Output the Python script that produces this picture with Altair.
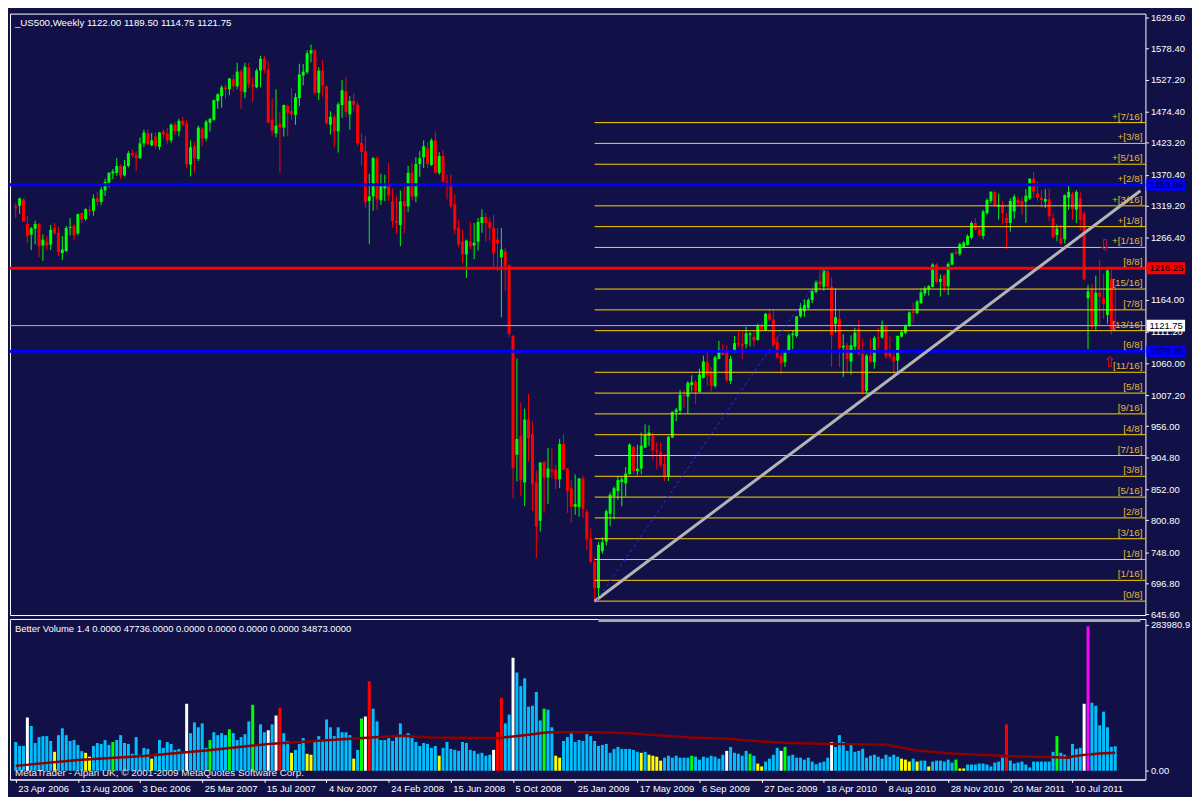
import altair as alt
import pandas as pd

BG = "#111147"
FONT = "Liberation Sans"
W, H1, H2 = 1146, 607, 162
XDOM = [-0.2, 289.5]
PDOM = [644.6, 1636.1]
VDOM = [-17000, 295000]

TITLE = "_US500,Weekly  1122.00 1189.50 1114.75 1121.75"
VOL_TITLE = "Better Volume 1.4 0.0000 47736.0000 0.0000 0.0000 0.0000 0.0000 34873.0000"
FOOTER = "MetaTrader - Alpari UK, \u00a9 2001-2009 MetaQuotes Software Corp."

# weekly bars, week 0 = 23 Apr 2006
opens = [
    1318.0, 1319.1, 1329.9, 1289.4, 1271.6, 1281.3, 1289.4, 1253.7, 1260.2, 1255.4,
    1282.9, 1274.8, 1241.3, 1244.6, 1283.5, 1286.2, 1273.7, 1307.2, 1297.5, 1312.1,
    1311.0, 1331.5, 1325.6, 1344.5, 1357.4, 1372.5, 1373.6, 1385.0, 1369.3, 1385.0,
    1406.0, 1402.8, 1398.0, 1422.2, 1438.4, 1419.0, 1433.6, 1416.3, 1441.7, 1438.4,
    1427.1, 1453.0, 1442.2, 1459.5, 1454.6, 1387.1, 1417.4, 1396.3, 1446.5, 1430.3,
    1456.2, 1461.1, 1491.9, 1500.0, 1514.6, 1511.3, 1527.5, 1516.2, 1540.5, 1506.5,
    1547.0, 1519.4, 1514.6, 1542.1, 1561.5, 1543.7, 1461.1, 1438.4, 1454.6, 1448.2,
    1483.8, 1475.7, 1469.2, 1496.7, 1534.0, 1539.4, 1570.2, 1575.6, 1505.4, 1542.1,
    1516.2, 1453.0, 1466.0, 1442.2, 1485.4, 1508.0, 1470.0, 1492.0, 1486.0, 1423.3,
    1409.3, 1327.2, 1334.7, 1397.9, 1328.3, 1347.7, 1352.6, 1326.6, 1294.2, 1287.8,
    1326.6, 1318.5, 1373.6, 1334.7, 1388.2, 1399.0, 1414.1, 1386.6, 1427.1, 1373.6,
    1401.2, 1359.0, 1352.6, 1321.8, 1282.9, 1260.2, 1239.2, 1260.2, 1253.7, 1260.2,
    1291.0, 1300.7, 1292.6, 1282.9, 1263.5, 1234.3, 1244.0, 1221.3, 1104.7, 908.7,
    939.5, 863.3, 967.0, 942.7, 863.3, 800.1, 897.3, 871.4, 884.4, 884.4,
    868.2, 926.5, 886.0, 853.6, 822.8, 822.8, 869.8, 814.7, 771.0, 732.1,
    688.9, 749.9, 765.6, 811.5, 840.1, 849.3, 863.9, 861.7, 876.8, 922.2,
    881.7, 886.0, 920.6, 940.0, 940.0, 915.7, 913.0, 894.1, 873.6, 937.3,
    978.9, 981.6, 1007.5, 1004.8, 1023.7, 1028.6, 1012.4, 1035.6, 1061.5, 1045.3,
    1022.1, 1066.9, 1076.6, 1077.7, 1030.2, 1082.0, 1092.8, 1091.2, 1091.2, 1106.9,
    1103.1, 1098.2, 1122.0, 1114.4, 1141.4, 1131.7, 1095.0, 1071.2, 1061.5, 1077.7,
    1105.8, 1104.7, 1137.1, 1145.2, 1150.6, 1164.1, 1177.6, 1194.9, 1185.7, 1211.6,
    1185.7, 1124.7, 1133.3, 1085.8, 1089.6, 1062.6, 1086.9, 1116.6, 1075.0, 1014.0,
    1072.3, 1061.5, 1102.0, 1102.0, 1120.9, 1077.7, 1070.7, 1064.2, 1103.6, 1110.1,
    1120.9, 1145.2, 1142.5, 1158.7, 1174.9, 1181.4, 1185.7, 1222.4, 1193.8, 1204.6,
    1186.8, 1222.4, 1242.4, 1239.7, 1251.6, 1254.8, 1266.7, 1291.0, 1280.2, 1269.4,
    1307.2, 1327.2, 1342.3, 1318.0, 1319.6, 1299.1, 1291.0, 1309.9, 1328.8, 1327.2,
    1326.1, 1331.5, 1363.9, 1339.6, 1332.6, 1326.1, 1329.9, 1299.1, 1271.0, 1265.6,
    1264.0, 1332.6, 1338.5, 1312.6, 1331.5, 1305.6, 1166.8, 1181.4, 1120.9, 1176.0,
    1166.8, 1139.3, 1199.2, 1122.0]

highs = [
    1323.4, 1332.6, 1331.5, 1302.4, 1284.0, 1294.8, 1291.0, 1272.1, 1269.4, 1287.8,
    1291.0, 1284.5, 1269.4, 1286.2, 1299.1, 1289.4, 1306.5, 1308.3, 1315.3, 1319.6,
    1338.0, 1342.3, 1350.4, 1363.9, 1374.7, 1380.1, 1398.0, 1387.7, 1394.7, 1409.8,
    1412.0, 1409.3, 1432.0, 1444.9, 1444.9, 1439.5, 1440.1, 1441.0, 1444.9, 1447.6,
    1455.2, 1457.9, 1462.7, 1466.0, 1461.1, 1427.1, 1423.9, 1451.4, 1449.0, 1461.1,
    1463.5, 1494.0, 1504.9, 1517.8, 1519.4, 1530.0, 1535.6, 1555.1, 1543.7, 1555.1,
    1555.1, 1530.8, 1545.4, 1566.4, 1566.4, 1556.7, 1496.7, 1511.3, 1474.1, 1486.0,
    1486.0, 1513.0, 1504.9, 1553.5, 1552.9, 1575.6, 1585.0, 1577.2, 1547.5, 1559.4,
    1517.8, 1475.0, 1470.0, 1490.0, 1527.0, 1532.0, 1500.0, 1505.0, 1490.0, 1438.4,
    1434.1, 1372.0, 1400.1, 1401.2, 1372.0, 1370.4, 1389.8, 1347.7, 1336.4, 1344.5,
    1355.8, 1385.0, 1389.8, 1399.5, 1409.3, 1427.1, 1423.9, 1430.3, 1441.7, 1407.6,
    1410.9, 1370.4, 1370.4, 1338.0, 1295.9, 1279.7, 1263.5, 1292.6, 1291.0, 1299.1,
    1313.7, 1307.2, 1300.7, 1304.0, 1282.9, 1282.9, 1250.5, 1222.9, 1106.0, 1067.4,
    994.6, 984.8, 1009.1, 963.8, 882.8, 897.3, 898.0, 920.0, 920.0, 892.5,
    934.6, 942.7, 887.0, 866.6, 876.3, 870.5, 874.7, 819.6, 787.2, 740.0,
    764.5, 772.6, 818.5, 846.6, 856.3, 873.6, 873.6, 888.7, 927.6, 923.0,
    925.4, 945.4, 958.9, 957.3, 945.4, 929.2, 929.2, 910.3, 940.0, 980.5,
    985.9, 1015.6, 1015.6, 1030.2, 1039.9, 1031.8, 1050.7, 1072.3, 1077.7, 1053.4,
    1072.3, 1096.6, 1091.2, 1089.6, 1072.3, 1104.7, 1112.8, 1111.2, 1119.8, 1111.2,
    1114.4, 1124.7, 1126.3, 1142.5, 1149.0, 1149.0, 1104.7, 1077.7, 1080.4, 1109.0,
    1114.4, 1138.0, 1158.7, 1165.2, 1166.8, 1181.4, 1196.5, 1212.7, 1215.4, 1215.4,
    1200.8, 1183.0, 1147.9, 1107.4, 1092.8, 1105.8, 1118.2, 1131.7, 1099.3, 1075.0,
    1100.4, 1104.7, 1118.2, 1130.1, 1122.0, 1104.7, 1080.4, 1105.5, 1112.8, 1123.6,
    1145.2, 1159.8, 1164.1, 1183.0, 1186.8, 1188.4, 1224.6, 1224.6, 1206.2, 1206.2,
    1226.2, 1242.4, 1247.8, 1258.6, 1261.3, 1272.1, 1293.7, 1299.1, 1285.6, 1312.6,
    1331.5, 1343.4, 1343.4, 1339.6, 1327.2, 1307.2, 1331.5, 1338.0, 1334.2, 1332.6,
    1346.6, 1365.0, 1374.7, 1359.6, 1345.0, 1346.6, 1347.7, 1307.2, 1288.3, 1288.3,
    1338.0, 1353.1, 1342.3, 1345.0, 1342.3, 1309.9, 1188.9, 1190.0, 1204.1, 1230.0,
    1207.3, 1215.4, 1215.4, 1189.5]

lows = [
    1299.1, 1305.6, 1293.2, 1257.5, 1246.2, 1255.9, 1234.9, 1228.4, 1246.2, 1246.2,
    1272.1, 1236.5, 1230.0, 1243.0, 1270.5, 1261.9, 1270.5, 1291.0, 1294.3, 1302.9,
    1302.9, 1320.2, 1320.2, 1335.3, 1349.3, 1363.4, 1368.8, 1363.9, 1367.7, 1382.3,
    1398.5, 1376.9, 1396.3, 1416.3, 1419.0, 1417.5, 1413.6, 1411.4, 1430.3, 1421.1,
    1422.8, 1435.7, 1433.6, 1450.3, 1380.6, 1367.7, 1374.2, 1393.1, 1417.4, 1425.5,
    1441.7, 1459.5, 1478.9, 1480.6, 1495.1, 1501.6, 1508.1, 1511.3, 1478.9, 1496.7,
    1513.0, 1490.3, 1513.0, 1514.6, 1537.3, 1455.0, 1435.2, 1432.0, 1373.6, 1433.6,
    1433.6, 1461.1, 1453.0, 1483.8, 1517.8, 1536.7, 1555.6, 1503.0, 1493.5, 1498.9,
    1453.0, 1436.8, 1415.7, 1407.1, 1464.0, 1466.0, 1444.9, 1475.0, 1417.9, 1385.5,
    1316.4, 1255.9, 1311.0, 1312.6, 1320.7, 1327.2, 1327.2, 1283.4, 1273.7, 1252.7,
    1273.7, 1308.8, 1328.3, 1325.0, 1367.1, 1381.7, 1381.7, 1385.0, 1372.0, 1370.4,
    1357.4, 1329.9, 1315.3, 1272.1, 1250.5, 1224.6, 1200.3, 1247.3, 1231.1, 1245.6,
    1274.8, 1260.2, 1261.8, 1218.1, 1211.6, 1135.5, 1179.2, 1103.1, 837.4, 864.9,
    840.6, 824.4, 897.3, 816.3, 738.6, 782.3, 813.1, 827.7, 869.8, 852.0,
    853.6, 882.8, 813.1, 796.9, 809.9, 806.6, 805.0, 751.5, 730.5, 667.0,
    675.4, 745.6, 759.1, 791.5, 802.3, 834.7, 823.9, 840.1, 876.0, 876.8,
    875.2, 876.8, 920.0, 923.8, 899.5, 884.9, 888.7, 865.5, 865.5, 936.2,
    964.3, 975.1, 985.9, 976.2, 1012.9, 992.4, 1011.0, 1034.5, 1022.6, 1012.9,
    1019.4, 1066.0, 1072.3, 1028.0, 1025.3, 1076.6, 1085.8, 1066.9, 1084.2, 1087.4,
    1087.4, 1096.6, 1114.4, 1112.8, 1129.0, 1085.8, 1066.9, 1041.0, 1053.4, 1076.6,
    1083.1, 1102.0, 1134.4, 1136.0, 1147.9, 1158.7, 1174.9, 1180.3, 1179.2, 1181.4,
    1053.4, 1110.1, 1053.4, 1037.2, 1045.3, 1041.0, 1077.7, 1072.3, 1007.5, 1008.6,
    1060.4, 1050.7, 1083.1, 1100.0, 1066.9, 1066.9, 1039.9, 1045.3, 1102.0, 1107.4,
    1119.8, 1126.3, 1140.0, 1157.6, 1170.6, 1171.1, 1184.6, 1191.1, 1169.5, 1177.6,
    1172.2, 1220.8, 1239.7, 1237.0, 1249.4, 1254.0, 1264.0, 1278.6, 1267.8, 1264.0,
    1304.5, 1323.4, 1318.0, 1296.4, 1288.3, 1247.8, 1276.4, 1298.0, 1320.7, 1304.5,
    1291.0, 1328.8, 1332.6, 1327.2, 1316.4, 1315.3, 1293.7, 1265.6, 1261.3, 1255.9,
    1257.0, 1312.6, 1296.4, 1291.0, 1278.6, 1196.5, 1083.1, 1115.5, 1112.8, 1120.9,
    1132.8, 1124.7, 1107.4, 1114.75]

closes = [
    1315.3, 1331.5, 1293.2, 1268.9, 1282.4, 1289.4, 1252.7, 1263.5, 1253.7, 1279.7,
    1273.7, 1243.0, 1247.3, 1282.9, 1284.5, 1270.5, 1305.6, 1296.4, 1313.7, 1311.0,
    1331.5, 1325.6, 1346.1, 1358.5, 1373.6, 1375.8, 1385.0, 1369.3, 1385.0, 1406.0,
    1402.8, 1398.0, 1422.2, 1440.1, 1420.6, 1427.1, 1417.9, 1440.1, 1436.8, 1427.1,
    1453.0, 1442.2, 1459.5, 1453.0, 1388.2, 1415.8, 1398.0, 1448.2, 1430.3, 1457.9,
    1462.7, 1493.5, 1503.2, 1514.6, 1511.3, 1529.2, 1516.2, 1540.5, 1508.1, 1548.6,
    1519.4, 1516.2, 1542.1, 1561.5, 1543.7, 1456.3, 1443.3, 1451.4, 1448.2, 1485.4,
    1472.5, 1470.8, 1498.4, 1535.6, 1540.5, 1570.7, 1575.6, 1505.4, 1542.1, 1517.8,
    1455.7, 1466.0, 1442.2, 1486.5, 1509.7, 1474.0, 1492.0, 1486.0, 1422.2, 1408.2,
    1325.0, 1334.7, 1397.9, 1329.9, 1352.6, 1352.6, 1336.4, 1294.2, 1291.0, 1326.6,
    1318.5, 1373.6, 1334.7, 1388.2, 1397.9, 1417.4, 1388.2, 1427.1, 1373.6, 1401.2,
    1359.0, 1357.4, 1318.5, 1280.2, 1255.4, 1239.2, 1261.8, 1252.1, 1258.6, 1292.6,
    1300.7, 1291.0, 1282.9, 1240.8, 1257.0, 1247.3, 1219.7, 1107.9, 887.6, 934.6,
    866.6, 967.0, 936.2, 860.1, 790.4, 895.7, 871.4, 886.0, 881.1, 868.2,
    926.5, 884.4, 848.7, 822.8, 827.7, 869.8, 819.6, 769.4, 732.1, 688.9,
    760.2, 764.5, 815.8, 842.8, 853.6, 867.1, 868.2, 877.9, 925.4, 882.2,
    886.0, 923.8, 941.6, 945.4, 915.7, 913.5, 891.4, 873.6, 938.4, 979.4,
    983.2, 1007.5, 1005.9, 1027.5, 1028.6, 1014.0, 1041.0, 1062.6, 1039.9, 1022.6,
    1069.6, 1082.0, 1073.4, 1031.8, 1066.9, 1092.8, 1090.7, 1088.5, 1109.0, 1109.0,
    1097.1, 1122.0, 1115.5, 1141.4, 1131.7, 1089.6, 1069.6, 1059.9, 1077.7, 1105.8,
    1108.5, 1137.1, 1150.6, 1156.0, 1164.1, 1178.7, 1193.8, 1189.5, 1212.7, 1185.7,
    1106.3, 1135.5, 1084.2, 1088.5, 1066.9, 1089.6, 1110.1, 1075.0, 1012.9, 1072.3,
    1062.6, 1101.5, 1100.4, 1120.9, 1070.7, 1070.7, 1062.6, 1104.7, 1111.2, 1120.9,
    1143.6, 1142.5, 1161.4, 1176.5, 1183.0, 1186.8, 1222.4, 1193.8, 1198.7, 1185.7,
    1223.5, 1240.8, 1240.2, 1255.9, 1258.6, 1269.4, 1291.0, 1280.2, 1271.0, 1309.9,
    1328.8, 1342.3, 1319.6, 1320.7, 1307.2, 1291.0, 1327.2, 1334.2, 1323.4, 1320.7,
    1335.8, 1363.9, 1342.3, 1332.6, 1328.8, 1330.4, 1301.8, 1267.8, 1281.8, 1257.0,
    1336.9, 1342.3, 1314.2, 1342.3, 1296.4, 1197.6, 1178.1, 1119.8, 1176.0, 1169.5,
    1157.1, 1212.7, 1115.5, 1121.75]

# weekly volume, thousands
volumes_k = [
    55.9, 48.3, 48.3, 103.5, 87.0, 54.0, 65.4, 67.3, 67.3, 57.8,
    36.8, 69.2, 82.6, 69.2, 57.8, 59.7, 50.2, 38.1, 34.9, 27.3,
    48.3, 54.0, 52.1, 59.7, 50.2, 55.9, 59.7, 69.2, 54.0, 52.1,
    33.0, 65.4, 31.1, 44.5, 42.5, 23.5, 33.0, 59.7, 44.5, 55.9,
    52.1, 40.6, 42.5, 36.8, 130.2, 73.0, 94.0, 84.5, 92.1, 44.5,
    59.7, 74.9, 69.2, 73.0, 69.2, 80.6, 73.0, 59.7, 65.4, 71.1,
    95.9, 128.3, 50.2, 90.2, 74.9, 78.7, 90.2, 107.3, 122.6, 73.0,
    57.8, 34.9, 40.6, 52.1, 63.5, 33.0, 31.1, 55.9, 67.3, 59.7,
    99.7, 84.5, 67.3, 84.5, 74.9, 74.9, 69.2, 23.5, 40.6, 101.6,
    105.4, 174.0, 120.7, 95.9, 59.7, 59.7, 63.5, 57.8, 69.2, 92.1,
    69.2, 73.0, 63.5, 55.9, 48.3, 54.0, 52.1, 44.5, 48.3, 29.2,
    44.5, 55.9, 42.5, 40.6, 38.7, 55.9, 54.0, 40.6, 38.7, 33.0,
    34.9, 29.2, 31.1, 40.6, 74.9, 141.6, 92.1, 109.2, 219.7, 191.1,
    164.5, 179.7, 124.5, 126.4, 153.0, 97.8, 120.7, 118.7, 84.5, 29.2,
    25.4, 57.8, 65.4, 73.0, 55.9, 59.7, 57.8, 71.1, 67.3, 57.8,
    48.3, 50.2, 52.1, 34.9, 42.5, 46.4, 42.5, 42.5, 42.5, 40.6,
    36.8, 34.9, 36.8, 31.1, 29.2, 27.3, 19.7, 25.4, 29.2, 25.4,
    29.2, 25.4, 25.4, 25.4, 29.2, 27.3, 21.6, 27.3, 25.4, 29.2,
    27.3, 23.5, 31.1, 38.7, 46.4, 34.9, 33.0, 29.2, 38.7, 33.0,
    29.2, 14.0, 8.3, 17.8, 23.5, 31.1, 44.5, 38.7, 46.4, 29.2,
    31.1, 25.4, 25.4, 21.6, 25.4, 17.8, 12.7, 15.9, 17.8, 25.4,
    55.9, 46.4, 69.2, 55.9, 38.7, 54.0, 36.8, 38.7, 42.5, 25.4,
    29.2, 31.1, 27.3, 23.5, 31.1, 27.3, 31.1, 27.3, 23.5, 21.6,
    17.8, 23.5, 17.8, 19.7, 19.7, 8.3, 17.8, 19.7, 19.7, 17.8,
    21.6, 15.9, 21.6, 4.4, 4.4, 12.1, 12.1, 12.1, 14.0, 14.0,
    12.1, 8.3, 15.9, 17.8, 25.4, 90.2, 19.7, 14.0, 15.9, 17.8,
    12.1, 6.4, 17.8, 17.8, 17.8, 17.8, 17.8, 36.8, 67.3, 34.9,
    31.1, 23.5, 52.1, 42.5, 44.5, 130.2, 280.7, 132.1, 126.4, 88.3,
    114.9, 84.5, 46.4, 47.7]

vol_white = [3, 44, 65, 67, 90, 123, 128, 183, 197, 210, 275]
vol_yellow = [10, 18, 19, 35, 71, 75, 76, 87, 109, 139, 140, 161, 163, 164, 165, 166,
              191, 192, 228, 229, 230, 232, 235, 243, 244]
vol_green = [25, 50, 55, 61, 89, 136, 174, 189, 198, 242, 268]
vol_red = [68, 91, 124, 125, 255]
vol_magenta = [276]
VOL_BLUE, VOL_WHITE, VOL_YELLOW = "#00bfff", "#ffffff", "#ffff00"
VOL_GREEN, VOL_RED, VOL_MAGENTA = "#00ff00", "#ff0000", "#ff00ff"
UP_COLOR, DOWN_COLOR = "#00ff00", "#ff0000"

# volume moving average (maroon line), thousands
ma_weeks = [0, 16, 33, 49, 66, 82, 99, 107, 124, 128, 132, 137, 150, 158, 166, 174, 183,
            191, 199, 207, 224, 232, 241, 249, 258, 266, 271, 272, 276, 279, 283]
ma_vals_k = [9.5, 21.0, 28.6, 39.4, 52.7, 60.3, 67.9, 64.8, 63.5, 66.7, 69.9, 74.9, 74.9,
             73.0, 68.6, 64.8, 62.2, 57.2, 54.0, 52.7, 50.8, 39.4, 33.7, 30.5, 27.9,
             26.7, 25.4, 27.9, 31.8, 33.7, 34.9]

# Murrey math levels
murrey_levels = [667.5, 701.8, 736.1, 770.4, 804.7, 839.0, 873.3, 907.6, 941.9, 976.2,
                 1010.5, 1044.8, 1079.1, 1113.4, 1147.7, 1182.0, 1216.3, 1250.6, 1284.9,
                 1319.2, 1353.5, 1387.8, 1422.1, 1456.4]
murrey_labels = ["[0/8]", "[1/16]", "[1/8]", "[3/16]", "[2/8]", "[5/16]", "[3/8]", "[7/16]",
                 "[4/8]", "[9/16]", "[5/8]", "[11/16]", "[6/8]", "[13/16]", "[7/8]",
                 "[15/16]", "[8/8]", "+[1/16]", "+[1/8]", "+[3/16]", "+[2/8]", "+[5/16]",
                 "+[3/8]", "+[7/16]"]
murrey_start_week = 149

# horizontal levels
hl_prices = [1353.86, 1216.25, 1079.26, 1121.75]
hl_colors = ["#0000ff", "#ff0000", "#0000ff", "#b4b4b4"]
hl_widths = [3, 3, 3, 1]
box_text = ["1353.86", "1216.25", "1079.26", "1121.75"]
box_fill = ["#0000ff", "#ff0000", "#0000ff", "#ffffff"]
box_text_colors = ["#000033", "#000000", "#000033", "#000000"]

# trendlines
trend_weeks = [149.0, 289.5]
trend_prices = [667.3, 1344.0]
dash_weeks = [149.5, 208.2]
dash_prices = [668.0, 1214.0]
vol_gray_weeks = [150.0, 289.5]
vol_gray_vals = [292000, 292000]

arrow_weeks = [280.3, 281.6]
arrow_prices = [1255.0, 1061.0]
arrow_text = ["\u21e9", "\u21e7"]

price_ticks = [645.6, 696.8, 748.0, 800.8, 852.0, 904.8, 956.0, 1007.2, 1060.0, 1111.2,
               1164.0, 1266.4, 1319.2, 1370.4, 1423.2, 1474.4, 1527.2, 1578.4, 1629.6]
date_labels = ["23 Apr 2006", "13 Aug 2006", "3 Dec 2006", "25 Mar 2007", "15 Jul 2007",
               "4 Nov 2007", "24 Feb 2008", "15 Jun 2008", "5 Oct 2008", "25 Jan 2009",
               "17 May 2009", "6 Sep 2009", "27 Dec 2009", "18 Apr 2010", "8 Aug 2010",
               "28 Nov 2010", "20 Mar 2011", "10 Jul 2011"]
date_weeks = [16 * i for i in range(len(date_labels))]

n = len(closes)
assert len(opens) == n and len(highs) == n and len(lows) == n and len(volumes_k) == n, (
    len(opens), len(highs), len(lows), len(closes), len(volumes_k))

# ---------- frames ----------
btop = [max(o, c) for o, c in zip(opens, closes)]
bbot = [min(min(o, c), max(o, c) - 1.6) for o, c in zip(opens, closes)]
cdf = pd.DataFrame({
    "week": list(range(n)), "open": opens, "high": highs, "low": lows, "close": closes,
    "btop": btop, "bbot": bbot,
    "col": [UP_COLOR if c >= o else DOWN_COLOR for o, c in zip(opens, closes)],
})

vcol = [VOL_BLUE] * n
for colr, idxs in ((VOL_WHITE, vol_white), (VOL_YELLOW, vol_yellow), (VOL_GREEN, vol_green),
                   (VOL_RED, vol_red), (VOL_MAGENTA, vol_magenta)):
    for i in idxs:
        vcol[i] = colr
vdf = pd.DataFrame({"week": list(range(n)), "vol": [v * 1000 for v in volumes_k],
                    "zero": [0] * n, "col": vcol})
madf = pd.DataFrame({"week": ma_weeks, "vol": [v * 1000 for v in ma_vals_k]})
mdf = pd.DataFrame({"level": murrey_levels, "label": murrey_labels,
                    "week": [murrey_start_week] * len(murrey_levels)})
hdf = pd.DataFrame({"price": hl_prices, "color": hl_colors, "w": hl_widths,
                    "txt": box_text, "fill": box_fill, "tcol": box_text_colors})
tdf = pd.DataFrame({"week": trend_weeks, "price": trend_prices})
ddf = pd.DataFrame({"week": dash_weeks, "price": dash_prices})
gdf = pd.DataFrame({"week": vol_gray_weeks, "vol": vol_gray_vals})
adf = pd.DataFrame({"week": arrow_weeks, "price": arrow_prices, "t": arrow_text})

# ---------- scales / axes ----------
XS = alt.Scale(domain=XDOM, nice=False, zero=False)
PS = alt.Scale(domain=PDOM, nice=False, zero=False)
VS = alt.Scale(domain=VDOM, nice=False, zero=False)

PAXIS = alt.Axis(orient="right", values=price_ticks, format=".2f", title=None, grid=False,
                 tickSize=3, labelPadding=2, domain=False)
VAXIS = alt.Axis(orient="right", values=[0, 283980.9], title=None, grid=False, tickSize=3,
                 labelPadding=2, domain=False,
                 labelExpr="datum.value == 0 ? '0.00' : '283980.9'")
label_arr = "[" + ",".join("'" + s + "'" for s in date_labels) + "]"
XAXIS_V = alt.Axis(orient="bottom", values=date_weeks, title=None, grid=False, tickSize=3,
                   labelAlign="left", labelOffset=2, labelPadding=1, labelFlush=False,
                   labelOverlap=False, labelExpr=label_arr + "[round(datum.value/16)]")


def xP(f):
    return alt.X(f, scale=XS, axis=None)


def yP(f):
    return alt.Y(f, scale=PS, axis=PAXIS)


def xV(f):
    return alt.X(f, scale=XS, axis=XAXIS_V)


def yV(f):
    return alt.Y(f, scale=VS, axis=VAXIS)


wicks = alt.Chart(cdf).mark_rule(strokeWidth=1).encode(
    x=xP("week:Q"), y=yP("low:Q"), y2="high:Q", color=alt.Color("col:N", scale=None))
bodies = alt.Chart(cdf).mark_bar(size=3).encode(
    x=xP("week:Q"), y=yP("bbot:Q"), y2="btop:Q", color=alt.Color("col:N", scale=None))

murrey_rules = alt.Chart(mdf).mark_rule(color="#ffd200", strokeWidth=1).encode(
    x=xP("week:Q"), x2=alt.value(W), y=yP("level:Q"))
murrey_text = alt.Chart(mdf).mark_text(
    align="right", baseline="bottom", dy=-1, font=FONT, fontSize=10, color="#e2b83a").encode(
    x=alt.value(W - 3), y=yP("level:Q"), text="label:N")

hl_rules = alt.Chart(hdf).mark_rule(strokeCap="butt").encode(
    x=alt.value(0), x2=alt.value(W), y=yP("price:Q"),
    color=alt.Color("color:N", scale=None), strokeWidth=alt.StrokeWidth("w:Q", scale=None))
box_bg = alt.Chart(hdf).mark_rule(strokeWidth=12, strokeCap="butt").encode(
    x=alt.value(W + 1), x2=alt.value(W + 40), y=yP("price:Q"),
    color=alt.Color("fill:N", scale=None))
box_txt = alt.Chart(hdf).mark_text(align="left", baseline="middle", font=FONT,
                                   fontSize=9.5).encode(
    x=alt.value(W + 4), y=yP("price:Q"), text="txt:N",
    color=alt.Color("tcol:N", scale=None))

trend = alt.Chart(tdf).mark_line(color="#b4b4b4", strokeWidth=3).encode(
    x=xP("week:Q"), y=yP("price:Q"))
dashed = alt.Chart(ddf).mark_line(color="#2a2aff", strokeWidth=1, strokeDash=[3, 3]).encode(
    x=xP("week:Q"), y=yP("price:Q"))
arrows = alt.Chart(adf).mark_text(font="DejaVu Sans", fontSize=15, color="#ff0000",
                                  baseline="middle").encode(
    x=xP("week:Q"), y=yP("price:Q"), text="t:N")
title = alt.Chart(pd.DataFrame({"t": [TITLE]})).mark_text(
    align="left", baseline="middle", font=FONT, fontSize=9.8, color="#ffffff").encode(
    x=alt.value(5), y=alt.value(9), text="t:N")

price = alt.layer(
    wicks, bodies, murrey_rules, hl_rules, trend, dashed, murrey_text,
    box_bg, box_txt, arrows, title
).properties(width=W, height=H1)

vbars = alt.Chart(vdf).mark_bar(size=3).encode(
    x=xV("week:Q"), y=yV("vol:Q"), y2="zero:Q", color=alt.Color("col:N", scale=None))
vma = alt.Chart(madf).mark_line(color="#8b0000", strokeWidth=2.5).encode(
    x=xV("week:Q"), y=yV("vol:Q"))
vgray = alt.Chart(gdf).mark_line(color="#a8a8a8", strokeWidth=3).encode(
    x=xV("week:Q"), y=yV("vol:Q"))
vtitle = alt.Chart(pd.DataFrame({"t": [VOL_TITLE]})).mark_text(
    align="left", baseline="middle", font=FONT, fontSize=9.5, color="#ffffff").encode(
    x=alt.value(5), y=alt.value(10), text="t:N")
vfoot = alt.Chart(pd.DataFrame({"t": [FOOTER]})).mark_text(
    align="left", baseline="middle", font=FONT, fontSize=10, color="#e8e8e8").encode(
    x=alt.value(5), y=alt.value(H2 - 7), text="t:N")

volume = alt.layer(vbars, vma, vgray, vtitle, vfoot).properties(width=W, height=H2)

chart = alt.vconcat(price, volume, spacing=4, bounds="flush", padding=0,
                    background=BG).configure_view(
    stroke="#ffffff", strokeWidth=1
).configure_axis(
    labelFont=FONT, labelFontSize=9.5, labelColor="#ffffff", tickColor="#ffffff",
    domainColor="#ffffff"
)

chart.save("out.html", embed_options={"renderer": "svg", "actions": False})
